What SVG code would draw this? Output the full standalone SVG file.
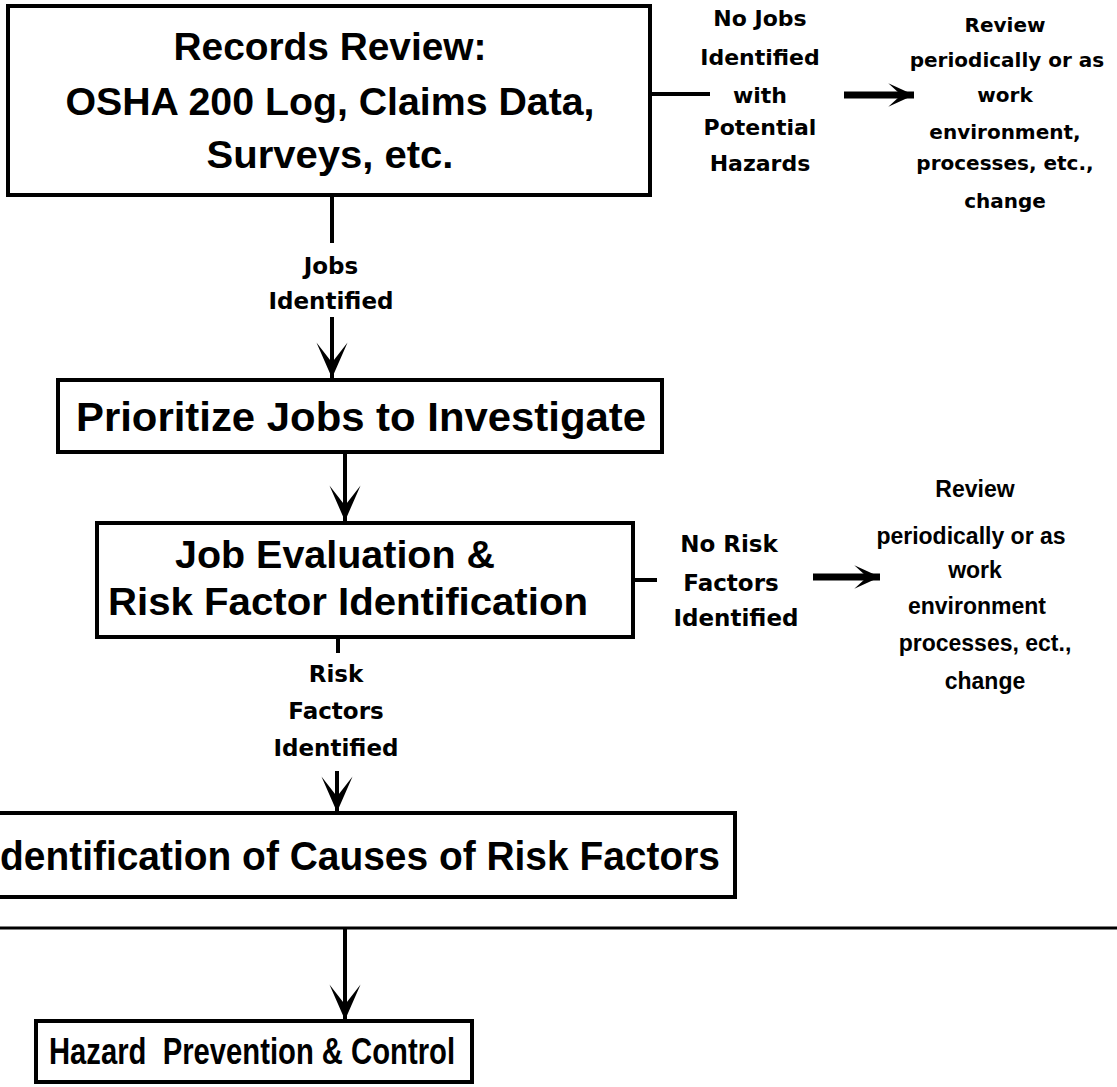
<svg xmlns="http://www.w3.org/2000/svg" width="1117" height="1087" viewBox="0 0 1117 1087">
<style>
  .box { fill: #fff; stroke: #000; stroke-width: 4; }
  .big { font-family: "Liberation Sans", Arial, sans-serif; font-weight: bold; fill: #000; text-anchor: middle; }
  .lbl { font-family: "DejaVu Sans", "Liberation Sans", sans-serif; font-weight: bold; fill: #000; text-anchor: middle; font-size: 22px; }
  .lbl2 { font-family: "DejaVu Sans", "Liberation Sans", sans-serif; font-weight: bold; fill: #000; text-anchor: middle; font-size: 23px; }
  .note { font-family: "DejaVu Sans", "Liberation Sans", sans-serif; font-weight: bold; fill: #000; text-anchor: middle; font-size: 20px; }
  .note2 { font-family: "Liberation Sans", Arial, sans-serif; font-weight: bold; fill: #000; text-anchor: middle; font-size: 23px; }
  .ln { stroke: #000; stroke-width: 4; fill: none; }
  .fat { stroke: #000; stroke-width: 7; fill: none; }
  .thin { stroke: #000; stroke-width: 3; fill: none; }
</style>
<defs>
  <marker id="down" markerUnits="userSpaceOnUse" markerWidth="40" markerHeight="40" viewBox="-34 -17 36 34" refX="0" refY="0" orient="auto">
    <path d="M0,0 L-32,-14 L-14,0 L-32,14 Z" fill="#000"/>
  </marker>
  <marker id="right" markerUnits="userSpaceOnUse" markerWidth="30" markerHeight="30" viewBox="-26 -13 28 26" refX="0" refY="0" orient="auto">
    <path d="M0,0 L-24,-11 L-12,0 L-24,11 Z" fill="#000"/>
  </marker>
</defs>
<rect width="1117" height="1087" fill="#fff"/>

<g id="connectors">
  <line class="ln" x1="332" y1="195" x2="332" y2="243"/>
  <line class="ln" x1="332" y1="317" x2="332" y2="378" marker-end="url(#down)"/>
  <line class="ln" x1="650" y1="94" x2="710" y2="94"/>
  <line class="fat" x1="844" y1="95" x2="914" y2="95" marker-end="url(#right)"/>
  <line class="ln" x1="345" y1="452" x2="345" y2="521" marker-end="url(#down)"/>
  <line class="ln" x1="634" y1="580" x2="657" y2="580"/>
  <line class="fat" x1="813" y1="577" x2="880" y2="577" marker-end="url(#right)"/>
  <line class="ln" x1="338" y1="638" x2="338" y2="653"/>
  <line class="ln" x1="337" y1="771" x2="337" y2="812" marker-end="url(#down)"/>
  <line class="thin" x1="0" y1="928" x2="1117" y2="928"/>
  <line class="ln" x1="345" y1="928" x2="345" y2="1020" marker-end="url(#down)"/>
</g>

<g id="records-review">
  <rect class="box" x="8" y="6" width="642" height="189"/>
  <text class="big" x="330" y="60" font-size="38" textLength="313" lengthAdjust="spacingAndGlyphs">Records Review:</text>
  <text class="big" x="330" y="115" font-size="38" textLength="529" lengthAdjust="spacingAndGlyphs">OSHA 200 Log, Claims Data,</text>
  <text class="big" x="330" y="168" font-size="38" textLength="247" lengthAdjust="spacingAndGlyphs">Surveys, etc.</text>
</g>

<g id="no-jobs-label">
  <text class="lbl" x="760" y="26">No Jobs</text>
  <text class="lbl" x="760" y="65">Identified</text>
  <text class="lbl" x="760" y="103">with</text>
  <text class="lbl" x="760" y="135">Potential</text>
  <text class="lbl" x="760" y="171">Hazards</text>
</g>

<g id="review-1">
  <text class="note" x="1005" y="32">Review</text>
  <text class="note" x="1007" y="67">periodically or as</text>
  <text class="note" x="1005" y="102">work</text>
  <text class="note" x="1005" y="139">environment,</text>
  <text class="note" x="1005" y="170">processes, etc.,</text>
  <text class="note" x="1005" y="208">change</text>
</g>

<g id="jobs-identified-label">
  <text class="lbl2" x="331" y="274">Jobs</text>
  <text class="lbl2" x="331" y="309">Identified</text>
</g>

<g id="prioritize">
  <rect class="box" x="58" y="380" width="604" height="72"/>
  <text class="big" x="361" y="431" font-size="40" textLength="570" lengthAdjust="spacingAndGlyphs">Prioritize Jobs to Investigate</text>
</g>

<g id="job-evaluation">
  <rect class="box" x="97" y="523" width="536" height="114"/>
  <text class="big" x="335" y="568" font-size="38" textLength="320" lengthAdjust="spacingAndGlyphs">Job Evaluation &amp;</text>
  <text class="big" x="348" y="615" font-size="38" textLength="480" lengthAdjust="spacingAndGlyphs">Risk Factor Identification</text>
</g>

<g id="no-risk-label">
  <text class="lbl2" x="729" y="552">No Risk</text>
  <text class="lbl2" x="731" y="591">Factors</text>
  <text class="lbl2" x="736" y="626">Identified</text>
</g>

<g id="review-2">
  <text class="note2" x="975" y="497">Review</text>
  <text class="note2" x="971" y="544">periodically or as</text>
  <text class="note2" x="975" y="578">work</text>
  <text class="note2" x="977" y="614">environment</text>
  <text class="note2" x="985" y="651">processes, ect.,</text>
  <text class="note2" x="985" y="689">change</text>
</g>

<g id="risk-factors-label">
  <text class="lbl2" x="336" y="682">Risk</text>
  <text class="lbl2" x="336" y="719">Factors</text>
  <text class="lbl2" x="336" y="756">Identified</text>
</g>

<g id="causes">
  <rect class="box" x="-10" y="813" width="745" height="84"/>
  <text class="big" x="360" y="870" font-size="40" textLength="720" lengthAdjust="spacingAndGlyphs">dentification of Causes of Risk Factors</text>
</g>

<g id="hazard-prevention">
  <rect class="box" x="36" y="1021" width="436" height="61"/>
  <text class="big" x="252" y="1064" font-size="36" textLength="406" lengthAdjust="spacingAndGlyphs" xml:space="preserve">Hazard  Prevention &amp; Control</text>
</g>
</svg>
